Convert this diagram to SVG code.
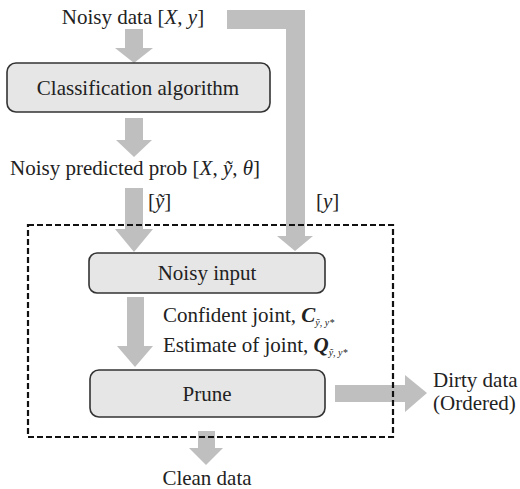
<svg xmlns="http://www.w3.org/2000/svg" width="520" height="489" viewBox="0 0 520 489">
<style>
text{font-family:"Liberation Serif","Times New Roman",serif;font-size:21px;fill:#222}
.box{fill:#e6e6e6;stroke:#333;stroke-width:1.6}
.arr{fill:#bfbfbf}
.i{font-style:italic}
.sub{font-size:10px;font-style:italic}
</style>
<rect width="520" height="489" fill="#fff"/>
<g id="connectors">
<polygon class="arr" points="125,29 143,29 143,48 153,48 134,63 115,48 125,48"/>
<polygon class="arr" points="125,118 143,118 143,140 152,140 134,157 116,140 125,140"/>
<polygon class="arr" points="125,188 143,188 143,229 153,229 134,252 115,229 125,229"/>
<polygon class="arr" points="227,10 305,10 305,236 313,236 295,251 277,236 286,236 286,29 227,29"/>
<polygon class="arr" points="127,297 144,297 144,346 153,346 135,367 117,346 127,346"/>
<polygon class="arr" points="335,385 405,385 405,375 427,393 405,412 405,402 335,402"/>
<polygon class="arr" points="198,431 215,431 215,448 223,448 206,465 189,448 198,448"/>
</g>
<g id="region">
<rect x="28" y="225" width="365" height="212" fill="none" stroke="#111" stroke-width="2.2" stroke-dasharray="6,3"/>
</g>
<g id="noisy-data">
<text x="133" y="24" text-anchor="middle">Noisy data [<tspan class="i">X</tspan>, <tspan class="i">y</tspan>]</text>
</g>
<g id="classification">
<rect class="box" x="7" y="63" width="263" height="49" rx="9"/>
<text x="138" y="95" text-anchor="middle">Classification algorithm</text>
</g>
<g id="predicted">
<text x="10" y="175">Noisy predicted prob [<tspan class="i">X</tspan>, <tspan class="i">ỹ</tspan>, <tspan class="i">θ</tspan>]</text>
</g>
<g id="labels">
<text x="148" y="208">[<tspan class="i">ỹ</tspan>]</text>
<text x="316" y="208">[<tspan class="i">y</tspan>]</text>
</g>
<g id="noisy-input">
<rect class="box" x="89" y="253" width="236" height="40" rx="8"/>
<text x="207" y="280" text-anchor="middle">Noisy input</text>
</g>
<g id="joint-labels">
<text x="163" y="322">Confident joint, <tspan font-weight="bold" class="i">C</tspan><tspan class="sub" dy="4">ỹ, y*</tspan></text>
<text x="163" y="352">Estimate of joint, <tspan font-weight="bold" class="i">Q</tspan><tspan class="sub" dy="4">ỹ, y*</tspan></text>
</g>
<g id="prune">
<rect class="box" x="90" y="370" width="235" height="47" rx="9"/>
<text x="207" y="401" text-anchor="middle">Prune</text>
</g>
<g id="dirty">
<text x="433" y="387">Dirty data</text>
<text x="433" y="410">(Ordered)</text>
</g>
<g id="clean">
<text x="207" y="485" text-anchor="middle">Clean data</text>
</g>
</svg>
